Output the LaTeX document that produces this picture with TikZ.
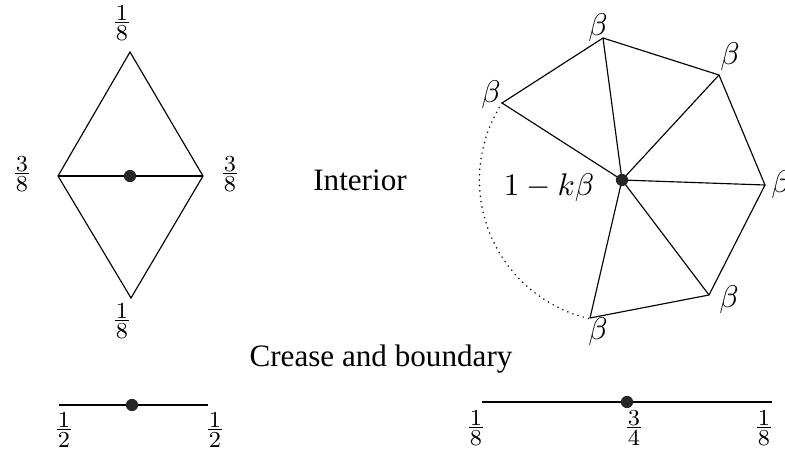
\documentclass[tikz,border=0pt]{standalone}
\usepackage[no-math]{fontspec}
\setmainfont{Liberation Serif}
\newcommand\myfr[2]{\vbox{\offinterlineskip\halign{\hfil##\hfil\cr
  \kern0.4pt$#1$\kern0.4pt\cr\noalign{\kern0.5pt}\hrulefill\cr\noalign{\kern0.7pt}
  \kern0.4pt$#2$\kern0.4pt\cr}}}
\begin{document}
\begin{tikzpicture}[x=0.35pt,y=-0.35pt,
  edge/.style={line width=0.4pt},
  vdot/.style={circle,fill=black!85,inner sep=0pt,minimum size=4.3pt},
  frac/.style={inner sep=0pt,font=\fontsize{7.6}{9}\selectfont},
  lab/.style={inner sep=0pt,font=\fontsize{10.9}{13}\selectfont},
  word/.style={inner sep=0pt,anchor=base,font=\fontsize{10.9}{13}\selectfont}]
\useasboundingbox (0,0) rectangle (785,454);
% left diamond
\coordinate (dt) at (130,52);
\coordinate (dl) at (58,176);
\coordinate (dr) at (203,176);
\coordinate (db) at (131,298);
\draw[edge] (dt) -- (dr) -- (db) -- (dl) -- cycle;
\draw[edge] (dl) -- (dr);
\node[vdot] (dc) at (130,176) {};
\node[frac] (ft) at (122,23) {\myfr{1}{8}};
\node[frac] (fl) at (22,174) {\myfr{3}{8}};
\node[frac] (fr) at (230,174) {\myfr{3}{8}};
\node[frac] (fb) at (122,321) {\myfr{1}{8}};
% labels
\node[word] (int) at (360,190) {Interior};
\node[word] (cb) at (381,366) {Crease and boundary};
% fan
\coordinate (c) at (622,180);
\coordinate (v1) at (502,103);
\coordinate (v2) at (603,38);
\coordinate (v3) at (719,75);
\coordinate (v4) at (765,185);
\coordinate (v5) at (709,295);
\coordinate (v6) at (590,318);
\draw[edge] (v1) -- (v2) -- (v3) -- (v4) -- (v5) -- (v6);
\foreach \v in {v1,v2,v3,v4,v5,v6} \draw[edge] (c) -- (\v);
\draw[line width=0.6pt,dash pattern=on 0pt off 1.9pt,line cap=round]
  (v1) arc[start angle=212.7,end angle=103,radius=142.5];
\node[vdot] (cd) at (c) {};
\node[lab] (b1) at (491,95) {$\beta$};
\node[lab] (b2) at (598,28) {$\beta$};
\node[lab] (b3) at (730,57) {$\beta$};
\node[lab] (b4) at (781,185) {$\beta$};
\node[lab] (b5) at (729,300) {$\beta$};
\node[lab] (b6) at (598,332) {$\beta$};
\node[lab] (kb) at (549,188) {$1-k\beta$};
% bottom left segment
\coordinate (l1) at (59,405);
\coordinate (l2) at (208,405);
\draw[edge] (l1) -- (l2);
\node[vdot] (ld) at (132,405) {};
\node[frac] (h1) at (64,430) {\myfr{1}{2}};
\node[frac] (h2) at (215,430) {\myfr{1}{2}};
% bottom right segment
\coordinate (r1) at (482,402);
\coordinate (r2) at (772,402);
\draw[edge] (r1) -- (r2);
\node[vdot] (rd) at (627,402) {};
\node[frac] (e1) at (476,428) {\myfr{1}{8}};
\node[frac] (e2) at (634,428) {\myfr{3}{4}};
\node[frac] (e3) at (764,428) {\myfr{1}{8}};
\end{tikzpicture}
\end{document}
